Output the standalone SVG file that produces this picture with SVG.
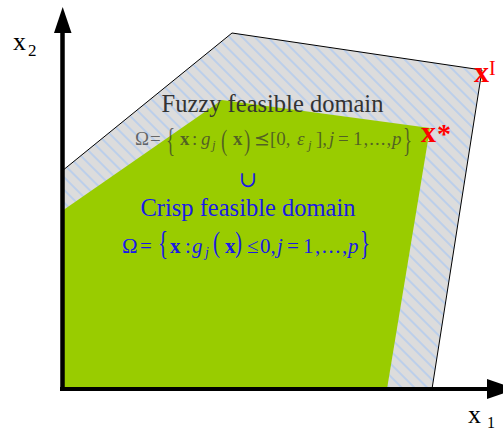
<svg xmlns="http://www.w3.org/2000/svg" width="503" height="430" viewBox="0 0 503 430">
<style>
.serif{font-family:"Liberation Serif","DejaVu Serif","DejaVu Sans",serif;}
.fz{fill:#333333;fill-opacity:0.7;font-size:19px;}
.cr{fill:#1a1ae6;font-size:21px;}
.b{font-weight:bold;}
.i{font-style:italic;}
.red{fill:#ff0000;}
</style>
<defs>
<pattern id="hatch" patternUnits="userSpaceOnUse" width="9" height="9" patternTransform="rotate(-45)">
<rect x="0" y="0" width="9" height="9" fill="#dcdcdc"/>
<line x1="1" y1="0" x2="1" y2="9" stroke="#bccfea" stroke-width="2"/>
</pattern>
</defs>
<rect x="0" y="0" width="503" height="430" fill="#ffffff"/>
<g id="fuzzy-domain">
<polygon points="62,389 62,171 232,33 482,70 432,389" fill="url(#hatch)" stroke="#000" stroke-width="1"/>
</g>
<g id="crisp-domain">
<polygon points="62,389 62,211 222,100 430,128 387,389" fill="#99cc00"/>
</g>
<g id="axes">
<line x1="62.5" y1="391" x2="62.5" y2="30" stroke="#000" stroke-width="4.5"/>
<polygon points="54,33 62.7,7 71.5,33" fill="#000"/>
<line x1="60" y1="389" x2="490" y2="389" stroke="#000" stroke-width="4"/>
<polygon points="487,379 516,389 487,399" fill="#000"/>
</g>
<g id="labels" class="serif">
<text x="13" y="50" font-size="26" fill="#000">x<tspan x="28" y="56" font-size="17">2</tspan></text>
<text x="468" y="423" font-size="26" fill="#000">x<tspan x="487" y="428" font-size="16">1</tspan></text>
<text x="474" y="82" font-size="30" class="red b">x<tspan x="489" y="75" font-size="20" font-weight="normal">I</tspan></text>
<text x="421" y="142" font-size="30" class="red b">x<tspan x="437" y="143" font-size="28">*</tspan></text>
</g>
<g id="fuzzy-text" class="serif">
<text x="272.5" y="112" font-size="24.5" fill="#333" text-anchor="middle">Fuzzy feasible domain</text>
<text class="fz" y="145"><tspan x="135">Ω</tspan><tspan x="150">=</tspan><tspan x="180" class="b">x</tspan><tspan x="192">:</tspan><tspan x="201" class="i">g</tspan><tspan x="212" y="149" class="i" font-size="13">j</tspan><tspan x="233" y="145" class="b">x</tspan><tspan x="254">⪯</tspan><tspan x="270">[0,</tspan><tspan x="297" class="i">ε</tspan><tspan x="308" y="149" class="i" font-size="13">j</tspan><tspan x="316" y="145">],</tspan><tspan x="329" class="i">j</tspan><tspan x="338">=</tspan><tspan x="353" letter-spacing="1">1,...,</tspan><tspan x="392" class="i">p</tspan></text>
<text class="fz" transform="translate(166,151) scale(1,1.75)">{</text>
<text class="fz" transform="translate(221,149.5) scale(1,1.5)">(</text>
<text class="fz" transform="translate(244,149.5) scale(1,1.5)">)</text>
<text class="fz" transform="translate(403,151) scale(1,1.75)">}</text>
</g>
<g id="union" class="serif">
<text x="248" y="187" font-size="22" fill="#1a1ae6" text-anchor="middle">∪</text>
</g>
<g id="crisp-text" class="serif">
<text x="248" y="216" font-size="24.5" fill="#1a1ae6" text-anchor="middle">Crisp feasible domain</text>
<text class="cr" y="253"><tspan x="122">Ω</tspan><tspan x="140">=</tspan><tspan x="170" class="b">x</tspan><tspan x="185">:</tspan><tspan x="192" class="i">g</tspan><tspan x="205" y="257" class="i" font-size="14">j</tspan><tspan x="225" y="253" class="b">x</tspan><tspan x="247">≤</tspan><tspan x="260">0,</tspan><tspan x="277" class="i">j</tspan><tspan x="287">=</tspan><tspan x="303" letter-spacing="1.5">1,...,</tspan><tspan x="348" class="i">p</tspan></text>
<text class="cr" transform="translate(158,254) scale(1,1.65)">{</text>
<text class="cr" transform="translate(213,252) scale(1,1.45)">(</text>
<text class="cr" transform="translate(235,252) scale(1,1.45)">)</text>
<text class="cr" transform="translate(360,254) scale(1,1.65)">}</text>
</g>
</svg>
